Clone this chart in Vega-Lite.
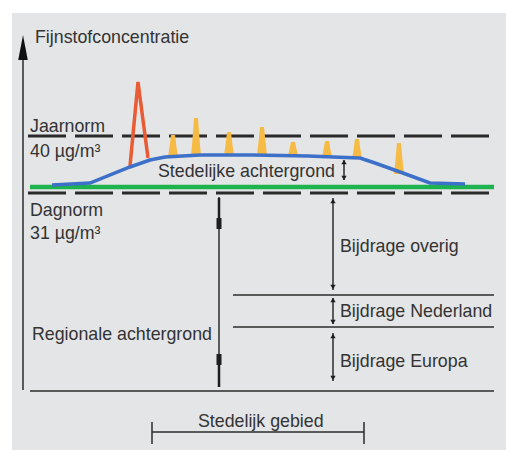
{
  "$schema": "https://vega.github.io/schema/vega-lite/v6.json",
  "width": 506,
  "height": 450,
  "autosize": {"type": "fit", "contains": "padding"},
  "padding": 0,
  "background": "white",
  "config": {"view": {"stroke": null}, "font": "Liberation Sans"},
  "datasets": {
    "panel": [{"x": 12, "x2": 506, "y": 13, "y2": 450}],
    "dashed": [{"name": "Jaarnorm", "x": 28, "x2": 490, "y": 136}, {"name": "Dagnorm", "x": 28, "x2": 490, "y": 193}],
    "green": [{"x": 30, "x2": 494, "y": 187}],
    "thin": [
      {"x": 23, "y": 55, "x2": 23, "y2": 390},
      {"x": 219, "y": 197, "x2": 219, "y2": 387},
      {"x": 333, "y": 198, "x2": 333, "y2": 290},
      {"x": 333, "y": 298, "x2": 333, "y2": 324},
      {"x": 333, "y": 333, "x2": 333, "y2": 381},
      {"x": 344, "y": 160, "x2": 344, "y2": 180},
      {"x": 30, "y": 391, "x2": 494, "y2": 391},
      {"x": 233, "y": 295, "x2": 494, "y2": 295},
      {"x": 233, "y": 327, "x2": 494, "y2": 327},
      {"x": 152, "y": 432, "x2": 364, "y2": 432},
      {"x": 152, "y": 422, "x2": 152, "y2": 444},
      {"x": 364, "y": 422, "x2": 364, "y2": 444}
    ],
    "thick": [
      {"x": 219, "y": 198, "x2": 219, "y2": 229},
      {"x": 219, "y": 354, "x2": 219, "y2": 387}
    ],
    "blocks": [
      {"x": 219, "y": 218, "x2": 219, "y2": 229},
      {"x": 219, "y": 354, "x2": 219, "y2": 365}
    ],
    "heads": [
      {"x": 333, "y": 201, "dir": "up"},
      {"x": 333, "y": 287, "dir": "down"},
      {"x": 333, "y": 300, "dir": "up"},
      {"x": 333, "y": 322, "dir": "down"},
      {"x": 333, "y": 336, "dir": "up"},
      {"x": 333, "y": 378, "dir": "down"},
      {"x": 344, "y": 162, "dir": "up"},
      {"x": 344, "y": 178, "dir": "down"}
    ],
    "axisHead": [{"x": 23, "y": 47.5}],
    "yellow": [
      {"p": 1, "x": 168, "y": 157, "b": 157}, {"p": 1, "x": 169.5, "y": 147, "b": 157}, {"p": 1, "x": 171, "y": 135, "b": 157}, {"p": 1, "x": 175, "y": 135, "b": 157}, {"p": 1, "x": 176.5, "y": 147, "b": 157}, {"p": 1, "x": 178, "y": 157, "b": 157},
      {"p": 2, "x": 191, "y": 156, "b": 156}, {"p": 2, "x": 192.5, "y": 139, "b": 156}, {"p": 2, "x": 194, "y": 118, "b": 156}, {"p": 2, "x": 198, "y": 118, "b": 156}, {"p": 2, "x": 199.5, "y": 139, "b": 156}, {"p": 2, "x": 201, "y": 156, "b": 156},
      {"p": 3, "x": 224, "y": 155, "b": 155}, {"p": 3, "x": 225.5, "y": 145, "b": 155}, {"p": 3, "x": 227, "y": 132, "b": 155}, {"p": 3, "x": 231, "y": 132, "b": 155}, {"p": 3, "x": 232.5, "y": 145, "b": 155}, {"p": 3, "x": 234, "y": 155, "b": 155},
      {"p": 4, "x": 257, "y": 155, "b": 155}, {"p": 4, "x": 258.5, "y": 142, "b": 155}, {"p": 4, "x": 260, "y": 127, "b": 155}, {"p": 4, "x": 264, "y": 127, "b": 155}, {"p": 4, "x": 265.5, "y": 142, "b": 155}, {"p": 4, "x": 267, "y": 155, "b": 155},
      {"p": 5, "x": 288, "y": 155, "b": 155}, {"p": 5, "x": 289.5, "y": 149, "b": 155}, {"p": 5, "x": 291, "y": 142, "b": 155}, {"p": 5, "x": 295, "y": 142, "b": 155}, {"p": 5, "x": 296.5, "y": 149, "b": 155}, {"p": 5, "x": 298, "y": 155, "b": 155},
      {"p": 6, "x": 322, "y": 157, "b": 157}, {"p": 6, "x": 323.5, "y": 150, "b": 157}, {"p": 6, "x": 325, "y": 141, "b": 157}, {"p": 6, "x": 329, "y": 141, "b": 157}, {"p": 6, "x": 330.5, "y": 150, "b": 157}, {"p": 6, "x": 332, "y": 157, "b": 157},
      {"p": 7, "x": 352, "y": 159, "b": 159}, {"p": 7, "x": 353.5, "y": 150, "b": 159}, {"p": 7, "x": 355, "y": 139, "b": 159}, {"p": 7, "x": 359, "y": 139, "b": 159}, {"p": 7, "x": 360.5, "y": 150, "b": 159}, {"p": 7, "x": 362, "y": 159, "b": 159},
      {"p": 8, "x": 394, "y": 174, "b": 174}, {"p": 8, "x": 395.5, "y": 160, "b": 174}, {"p": 8, "x": 397, "y": 143, "b": 174}, {"p": 8, "x": 401, "y": 143, "b": 174}, {"p": 8, "x": 402.5, "y": 160, "b": 174}, {"p": 8, "x": 404, "y": 174, "b": 174}
    ],
    "red": [{"x": 130, "y": 166}, {"x": 138, "y": 82}, {"x": 148, "y": 158}],
    "blue": [
      {"x": 52, "y": 185}, {"x": 90, "y": 183}, {"x": 130, "y": 167}, {"x": 150, "y": 160}, {"x": 165, "y": 157},
      {"x": 200, "y": 155}, {"x": 253, "y": 155}, {"x": 308, "y": 156}, {"x": 333, "y": 157}, {"x": 360, "y": 158},
      {"x": 375, "y": 163}, {"x": 400, "y": 172}, {"x": 430, "y": 183}, {"x": 465, "y": 184}
    ],
    "labels": [
      {"t": "Fijnstofconcentratie", "x": 35, "y": 43},
      {"t": "Jaarnorm", "x": 30, "y": 132},
      {"t": "40 µg/m³", "x": 30, "y": 157},
      {"t": "Stedelijke achtergrond", "x": 158, "y": 177},
      {"t": "Dagnorm", "x": 30, "y": 216},
      {"t": "31 µg/m³", "x": 30, "y": 239},
      {"t": "Regionale achtergrond", "x": 32, "y": 340},
      {"t": "Bijdrage overig", "x": 340, "y": 252},
      {"t": "Bijdrage Nederland", "x": 340, "y": 317},
      {"t": "Bijdrage Europa", "x": 340, "y": 367},
      {"t": "Stedelijk gebied", "x": 198, "y": 427}
    ]
  },
  "encoding": {
    "x": {"field": "x", "type": "quantitative", "scale": {"domain": [0, 506], "nice": false, "zero": false}, "axis": null},
    "y": {"field": "y", "type": "quantitative", "scale": {"domain": [0, 450], "nice": false, "zero": false, "reverse": true}, "axis": null}
  },
  "layer": [
    {"data": {"name": "panel"}, "mark": {"type": "rect", "color": "#e4e5e7"}, "encoding": {"x2": {"field": "x2"}, "y2": {"field": "y2"}}},
    {"data": {"name": "dashed"}, "mark": {"type": "rule", "color": "#2a2a2a", "strokeWidth": 3, "strokeDash": [38, 9]}, "encoding": {"x2": {"field": "x2"}}},
    {"data": {"name": "green"}, "mark": {"type": "rule", "color": "#1db34f", "strokeWidth": 4.5}, "encoding": {"x2": {"field": "x2"}}},
    {"data": {"name": "thin"}, "mark": {"type": "rule", "color": "#2b2b2b", "strokeWidth": 1.5}, "encoding": {"x2": {"field": "x2"}, "y2": {"field": "y2"}}},
    {"data": {"name": "thick"}, "mark": {"type": "rule", "color": "#1e1e1e", "strokeWidth": 2.5}, "encoding": {"x2": {"field": "x2"}, "y2": {"field": "y2"}}},
    {"data": {"name": "blocks"}, "mark": {"type": "rule", "color": "#1e1e1e", "strokeWidth": 5}, "encoding": {"x2": {"field": "x2"}, "y2": {"field": "y2"}}},
    {"data": {"name": "heads"}, "mark": {"type": "point", "filled": true, "color": "#1e1e1e", "size": 28, "opacity": 1}, "encoding": {"shape": {"field": "dir", "type": "nominal", "scale": {"domain": ["up", "down"], "range": ["triangle-up", "triangle-down"]}, "legend": null}}},
    {"data": {"name": "axisHead"}, "mark": {"type": "point", "filled": true, "color": "#111111", "opacity": 1, "size": 625, "shape": "M0,-1L0.38,1L-0.38,1Z"}},
    {"data": {"name": "yellow"}, "mark": {"type": "area", "color": "#f6bb45", "opacity": 1}, "encoding": {"y2": {"field": "b"}, "detail": {"field": "p", "type": "nominal"}}},
    {"data": {"name": "red"}, "mark": {"type": "line", "color": "#e95b35", "strokeWidth": 3.5, "strokeJoin": "miter"}, "encoding": {}},
    {"data": {"name": "blue"}, "mark": {"type": "line", "color": "#3d70c8", "strokeWidth": 3.5}, "encoding": {}},
    {"data": {"name": "labels"}, "mark": {"type": "text", "align": "left", "baseline": "alphabetic", "fontSize": 17.8, "color": "#333333", "font": "Liberation Sans"}, "encoding": {"text": {"field": "t"}}}
  ]
}
